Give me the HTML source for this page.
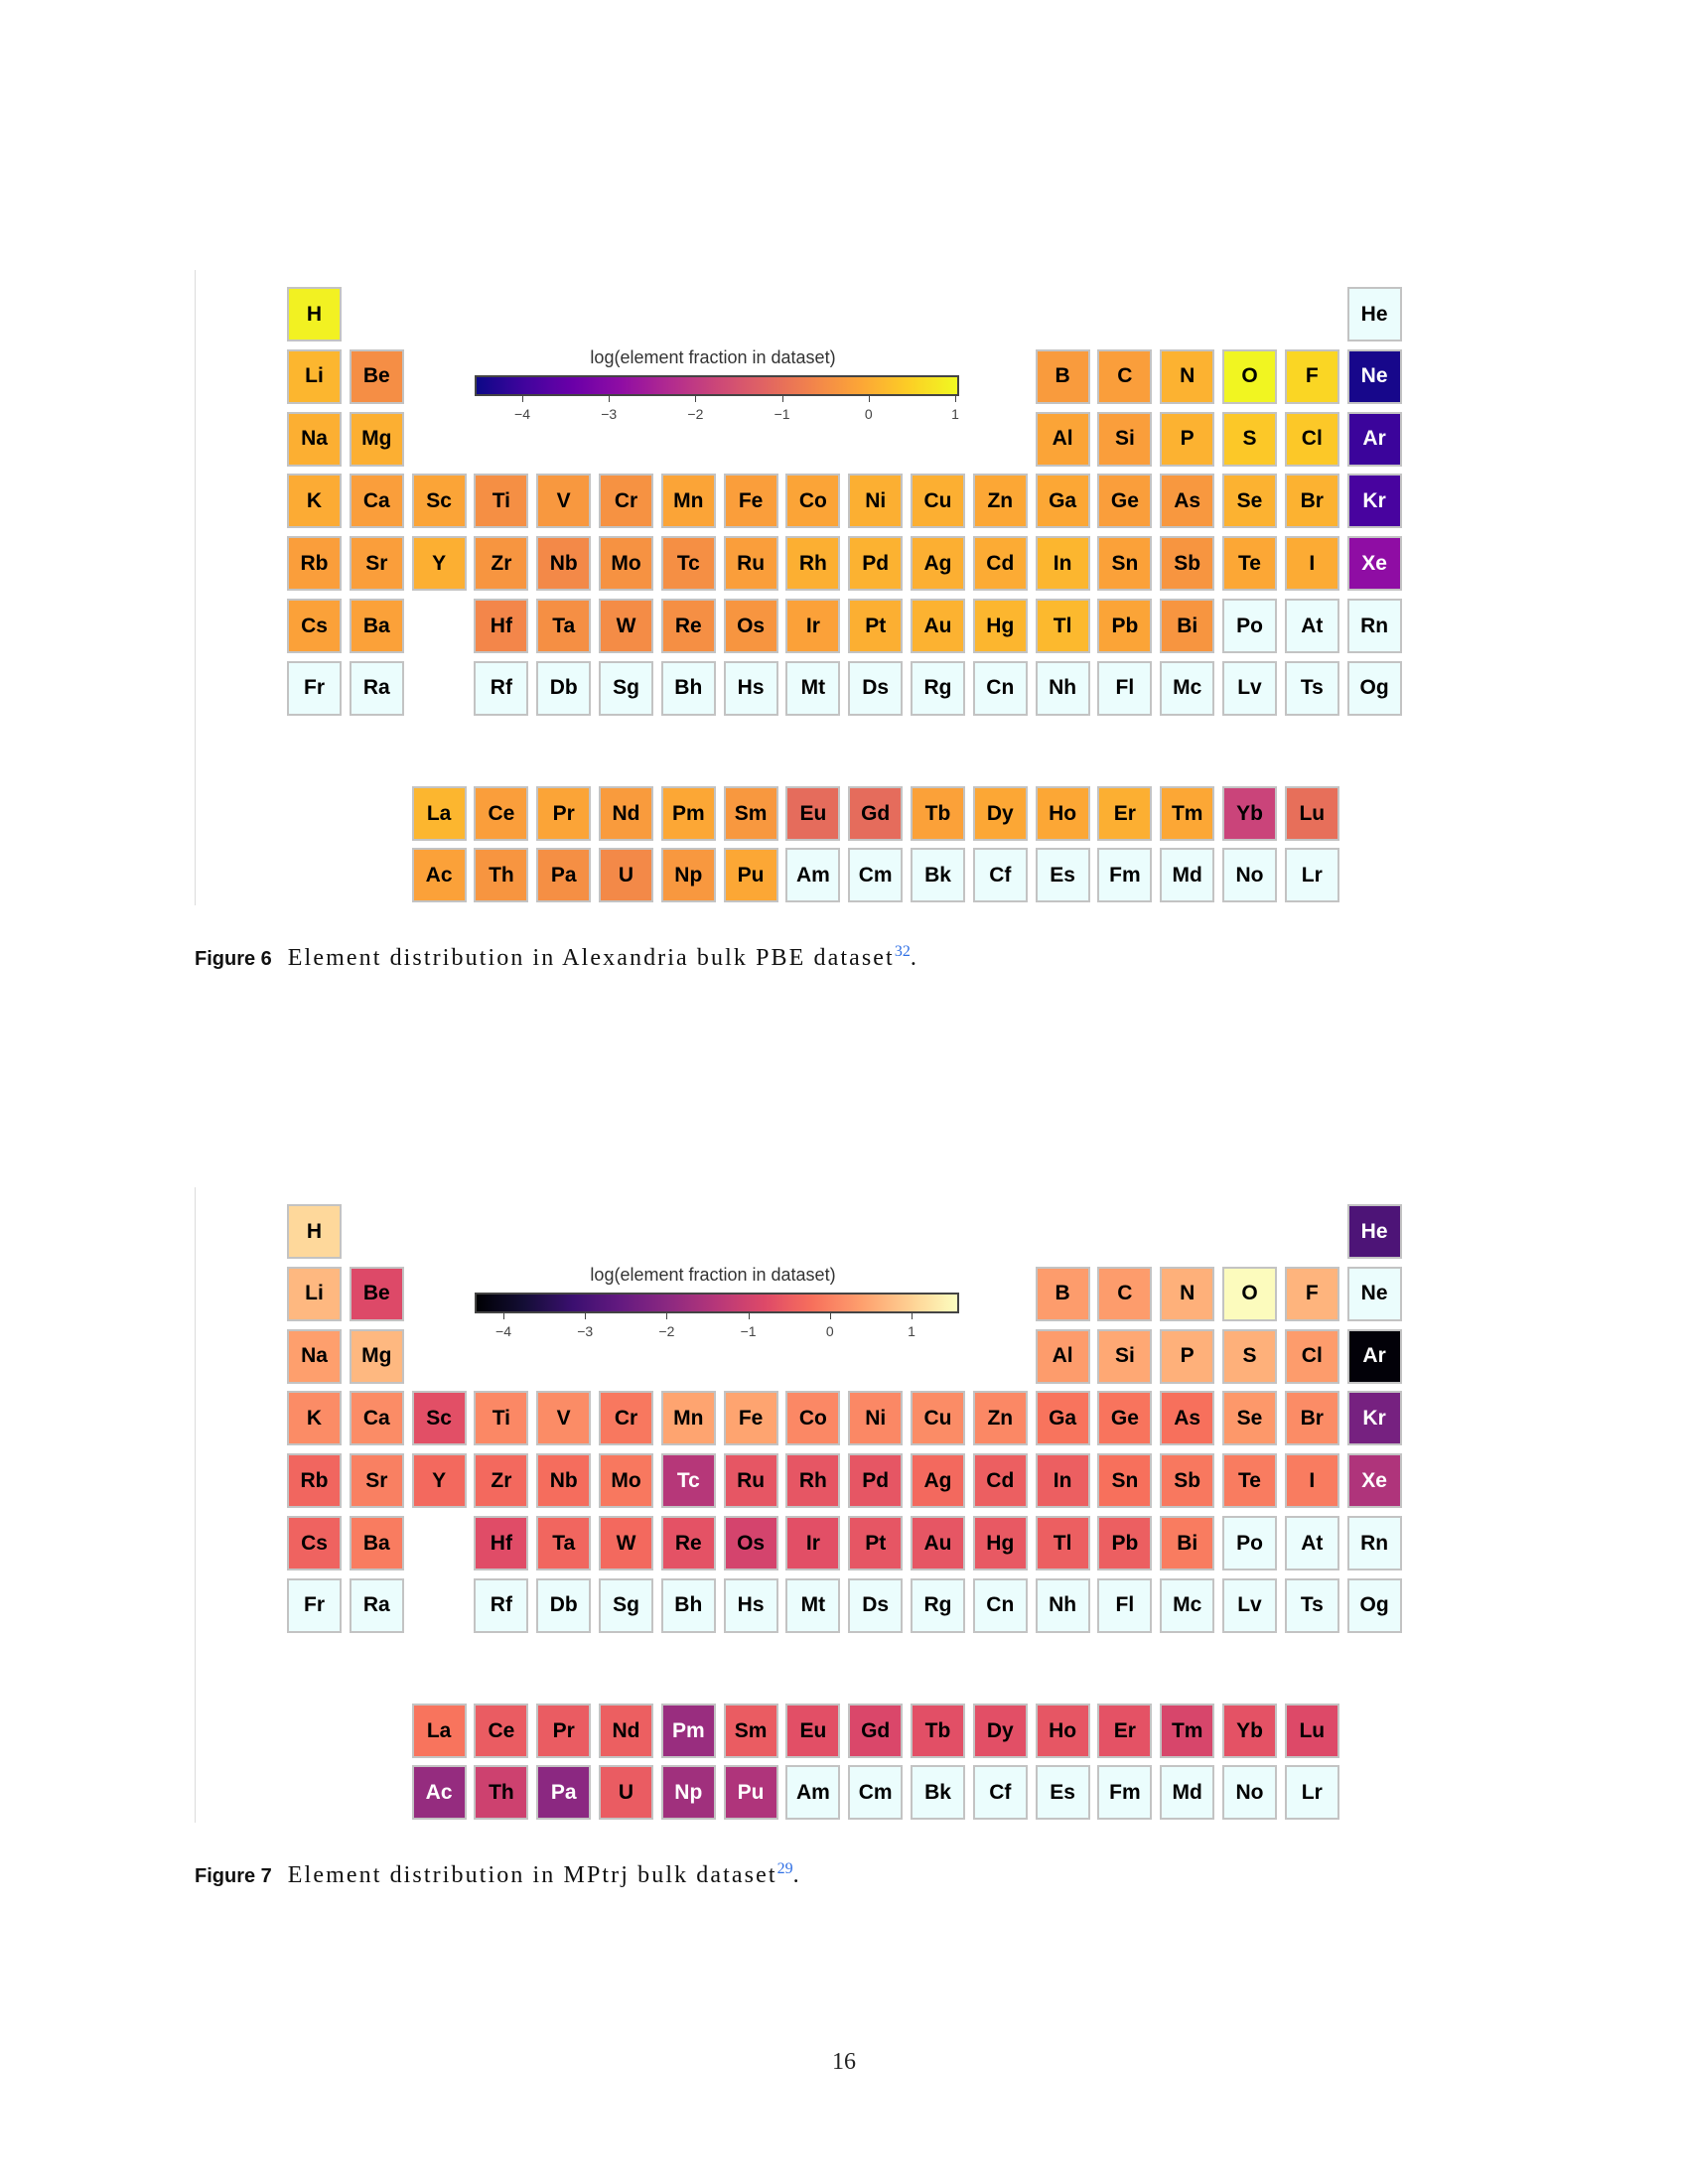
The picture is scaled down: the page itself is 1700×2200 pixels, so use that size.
<!DOCTYPE html>
<html>
<head>
<meta charset="utf-8">
<style>
  html,body{margin:0;padding:0;background:#fff;}
  #page{position:relative;width:1700px;height:2200px;background:#fff;overflow:hidden;font-family:"Liberation Sans",sans-serif;}
  .tile{position:absolute;box-sizing:border-box;width:55px;height:55px;border:2px solid #c3c3c3;display:flex;align-items:center;justify-content:center;font-weight:bold;font-size:21px;}
  .vline{position:absolute;width:1px;background:#dcdcdc;}
  .cb{position:absolute;box-sizing:border-box;height:21px;border:2px solid #444;}
  .cbt{position:absolute;width:1px;height:6px;background:#444;}
  .cbl{position:absolute;font-size:14px;color:#444;transform:translateX(-50%);}
  .cbtitle{position:absolute;font-size:18px;color:#333;transform:translateX(-50%);white-space:nowrap;}
  .cap{position:absolute;left:196px;font-family:"Liberation Serif",serif;font-size:24px;letter-spacing:2.1px;color:#111;white-space:nowrap;}
  .cap b{font-family:"Liberation Sans",sans-serif;font-size:20px;letter-spacing:0;margin-right:16px;}
  .cap sup{color:#2f6fe4;font-size:16px;letter-spacing:0;}
</style>
</head>
<body>
<div id="page">
  <div class="vline" style="left:196px;top:272px;height:640px;"></div>
  <div class="vline" style="left:196px;top:1196px;height:640px;"></div>
  <div class="cap" style="top:950px;"><b>Figure 6</b>Element distribution in Alexandria bulk PBE dataset<sup>32</sup>.</div>
  <div class="cap" style="top:1874px;"><b>Figure 7</b>Element distribution in MPtrj bulk dataset<sup>29</sup>.</div>
  <div style="position:absolute;left:0;width:1700px;text-align:center;top:2064px;font-family:'Liberation Serif',serif;font-size:24px;color:#222;">16</div>
</div>
<script>
const symbols = ["H","He","Li","Be","B","C","N","O","F","Ne","Na","Mg","Al","Si","P","S","Cl","Ar",
"K","Ca","Sc","Ti","V","Cr","Mn","Fe","Co","Ni","Cu","Zn","Ga","Ge","As","Se","Br","Kr",
"Rb","Sr","Y","Zr","Nb","Mo","Tc","Ru","Rh","Pd","Ag","Cd","In","Sn","Sb","Te","I","Xe",
"Cs","Ba","La","Ce","Pr","Nd","Pm","Sm","Eu","Gd","Tb","Dy","Ho","Er","Tm","Yb","Lu","Hf","Ta","W","Re","Os","Ir","Pt","Au","Hg","Tl","Pb","Bi","Po","At","Rn",
"Fr","Ra","Ac","Th","Pa","U","Np","Pu","Am","Cm","Bk","Cf","Es","Fm","Md","No","Lr","Rf","Db","Sg","Bh","Hs","Mt","Ds","Rg","Cn","Nh","Fl","Mc","Lv","Ts","Og"];

const alexValues = [
0.95,null,
0.15,-0.46,-0.25,-0.2,0.1,1.0,0.6,-4.44,
0.05,0.05,-0.1,-0.2,0.1,0.4,0.4,-4.05,
0,-0.2,-0.1,-0.45,-0.3,-0.4,-0.1,-0.2,-0.1,0.05,0.05,-0.05,-0.05,-0.2,-0.3,0.1,0.1,-3.9,
-0.2,-0.2,0.05,-0.35,-0.55,-0.4,-0.45,-0.2,0.05,0.1,0.05,0,0.15,-0.15,-0.35,-0.05,0,-2.87,
-0.15,-0.15,0.15,-0.2,-0.1,-0.25,-0.05,-0.3,-1.05,-1.05,-0.15,-0.05,-0.05,0.05,-0.05,-1.8,-1.0,-0.6,-0.45,-0.5,-0.45,-0.35,-0.15,0.05,0.1,0.15,0.2,-0.1,-0.35,null,null,null,
null,null,-0.15,-0.35,-0.45,-0.55,-0.3,-0.05,null,null,null,null,null,null,null,null,null,null,null,null,null,null,null,null,null,null,null,null,null,null,null,null];

const mptrjValues = [
1.1,-2.9,
0.7,-0.8,0.35,0.35,0.6,1.55,0.65,null,
0.4,0.7,0.35,0.5,0.6,0.6,0.35,-4.3,
0.15,0.15,-0.7,0.1,0.15,-0.1,0.45,0.45,0.1,0.1,0.15,0.1,-0.15,-0.15,-0.2,0.3,0.15,-2.3,
-0.35,0,-0.3,-0.3,-0.25,-0.1,-1.4,-0.6,-0.6,-0.6,-0.3,-0.45,-0.45,-0.2,-0.1,-0.05,-0.05,-1.5,
-0.4,-0.05,-0.15,-0.5,-0.5,-0.45,-1.8,-0.5,-0.7,-0.85,-0.7,-0.7,-0.6,-0.65,-0.9,-0.65,-0.8,-0.75,-0.35,-0.3,-0.65,-0.95,-0.7,-0.6,-0.6,-0.55,-0.45,-0.45,-0.05,null,null,null,
null,null,-1.85,-1.05,-2.0,-0.5,-1.7,-1.5,null,null,null,null,null,null,null,null,null,null,null,null,null,null,null,null,null,null,null,null,null,null,null,null];

const cbTicks = [-4,-3,-2,-1,0,1];
const cbTickLabels = ["\u22124","\u22123","\u22122","\u22121","0","1"];

const plasma = [[0,"#0d0887"],[0.1,"#41049d"],[0.2,"#6a00a8"],[0.3,"#8f0da4"],[0.4,"#b12a90"],[0.5,"#cc4778"],[0.6,"#e16462"],[0.7,"#f2844b"],[0.8,"#fca636"],[0.9,"#fcce25"],[1,"#f0f921"]];
const magma = [[0,"#000004"],[0.1,"#140e36"],[0.2,"#3b0f70"],[0.3,"#641a80"],[0.4,"#8c2981"],[0.5,"#b73779"],[0.6,"#de4968"],[0.7,"#f7705c"],[0.8,"#fe9f6d"],[0.9,"#fecf92"],[1,"#fcfdbf"]];

function hex(h){return [1,3,5].map(i=>parseInt(h.substr(i,2),16));}
function cmap(stops,t){
  t=Math.max(0,Math.min(1,t));
  for(let i=0;i<stops.length-1;i++){
    const [t0,c0]=stops[i],[t1,c1]=stops[i+1];
    if(t<=t1){const f=(t-t0)/(t1-t0);const a=hex(c0),b=hex(c1);
      return "rgb("+a.map((v,k)=>Math.round(v+(b[k]-v)*f)).join(",")+")";}
  }
  return stops[stops.length-1][1];
}
function position(z){
  if(z===1) return [1,1];
  if(z===2) return [1,18];
  if(z<=10) return [2, z<=4? z-2 : z+8];
  if(z<=18) return [3, z<=12? z-10 : z];
  if(z<=36) return [4, z-18];
  if(z<=54) return [5, z-36];
  if(z>=57&&z<=71) return [9, z-54];
  if(z>=89&&z<=103) return [10, z-86];
  if(z<=86) return [6, z<=56? z-54 : z-68];
  return [7, z<=88? z-86 : z-100];
}

const page=document.getElementById('page');
function drawFigure(prefix, values, stops, vmin, vmax, top, tickX0, tickUnit, whiteBelow){
  const colX = g => 289 + (g-1)*62.8;
  const rowY = r => r<=7 ? top + (r-1)*62.8 : top + 503 + (r-9)*62;
  symbols.forEach((s,i)=>{
    const [r,g]=position(i+1);
    const v=values[i];
    const d=document.createElement('div');
    d.className='tile';
    
    
    d.style.left=colX(g)+'px';
    d.style.top=rowY(r)+'px';
    if(v==null){d.style.background='#ebfdfd';d.style.color='#000';}
    else{const t=(v-vmin)/(vmax-vmin);d.style.background=cmap(stops,t);d.style.color=t<whiteBelow?'#fff':'#000';}
    d.textContent=s;
    page.appendChild(d);
  });
  const cbLeft=478, cbRight=966, cbTop=top+89;
  const stopsStr=[];
  for(let k=0;k<=40;k++){stopsStr.push(cmap(stops,k/40)+' '+(k*2.5)+'%');}
  const bar=document.createElement('div');
  bar.className='cb';
  
  
  bar.style.left=cbLeft+'px';bar.style.top=cbTop+'px';bar.style.width=(cbRight-cbLeft)+'px';
  bar.style.background='linear-gradient(to right,'+stopsStr.join(',')+')';
  page.appendChild(bar);
  const title=document.createElement('div');
  title.className='cbtitle';
  
  
  title.style.left=(cbLeft+cbRight)/2-4+'px';title.style.top=(cbTop-28)+'px';
  title.textContent='log(element fraction in dataset)';
  page.appendChild(title);
  const xs = v => tickX0 + (v - cbTicks[0])*tickUnit;
  cbTicks.forEach((v,k)=>{
    const t=document.createElement('div');
    t.className='cbt';
    
    
    t.style.left=xs(v)+'px';t.style.top=(cbTop+21)+'px';
    page.appendChild(t);
    const l=document.createElement('div');
    l.className='cbl';
    
    
    l.style.left=xs(v)+'px';l.style.top=(cbTop+31)+'px';
    l.textContent=cbTickLabels[k];
    page.appendChild(l);
  });
}
drawFigure('fig6', alexValues, plasma, -4.55, 1.05, 289, 526, 87.2, 0.4);
drawFigure('fig7', mptrjValues, magma, -4.35, 1.58, 1213, 507, 82.2, 0.54);
</script>
</body>
</html>
